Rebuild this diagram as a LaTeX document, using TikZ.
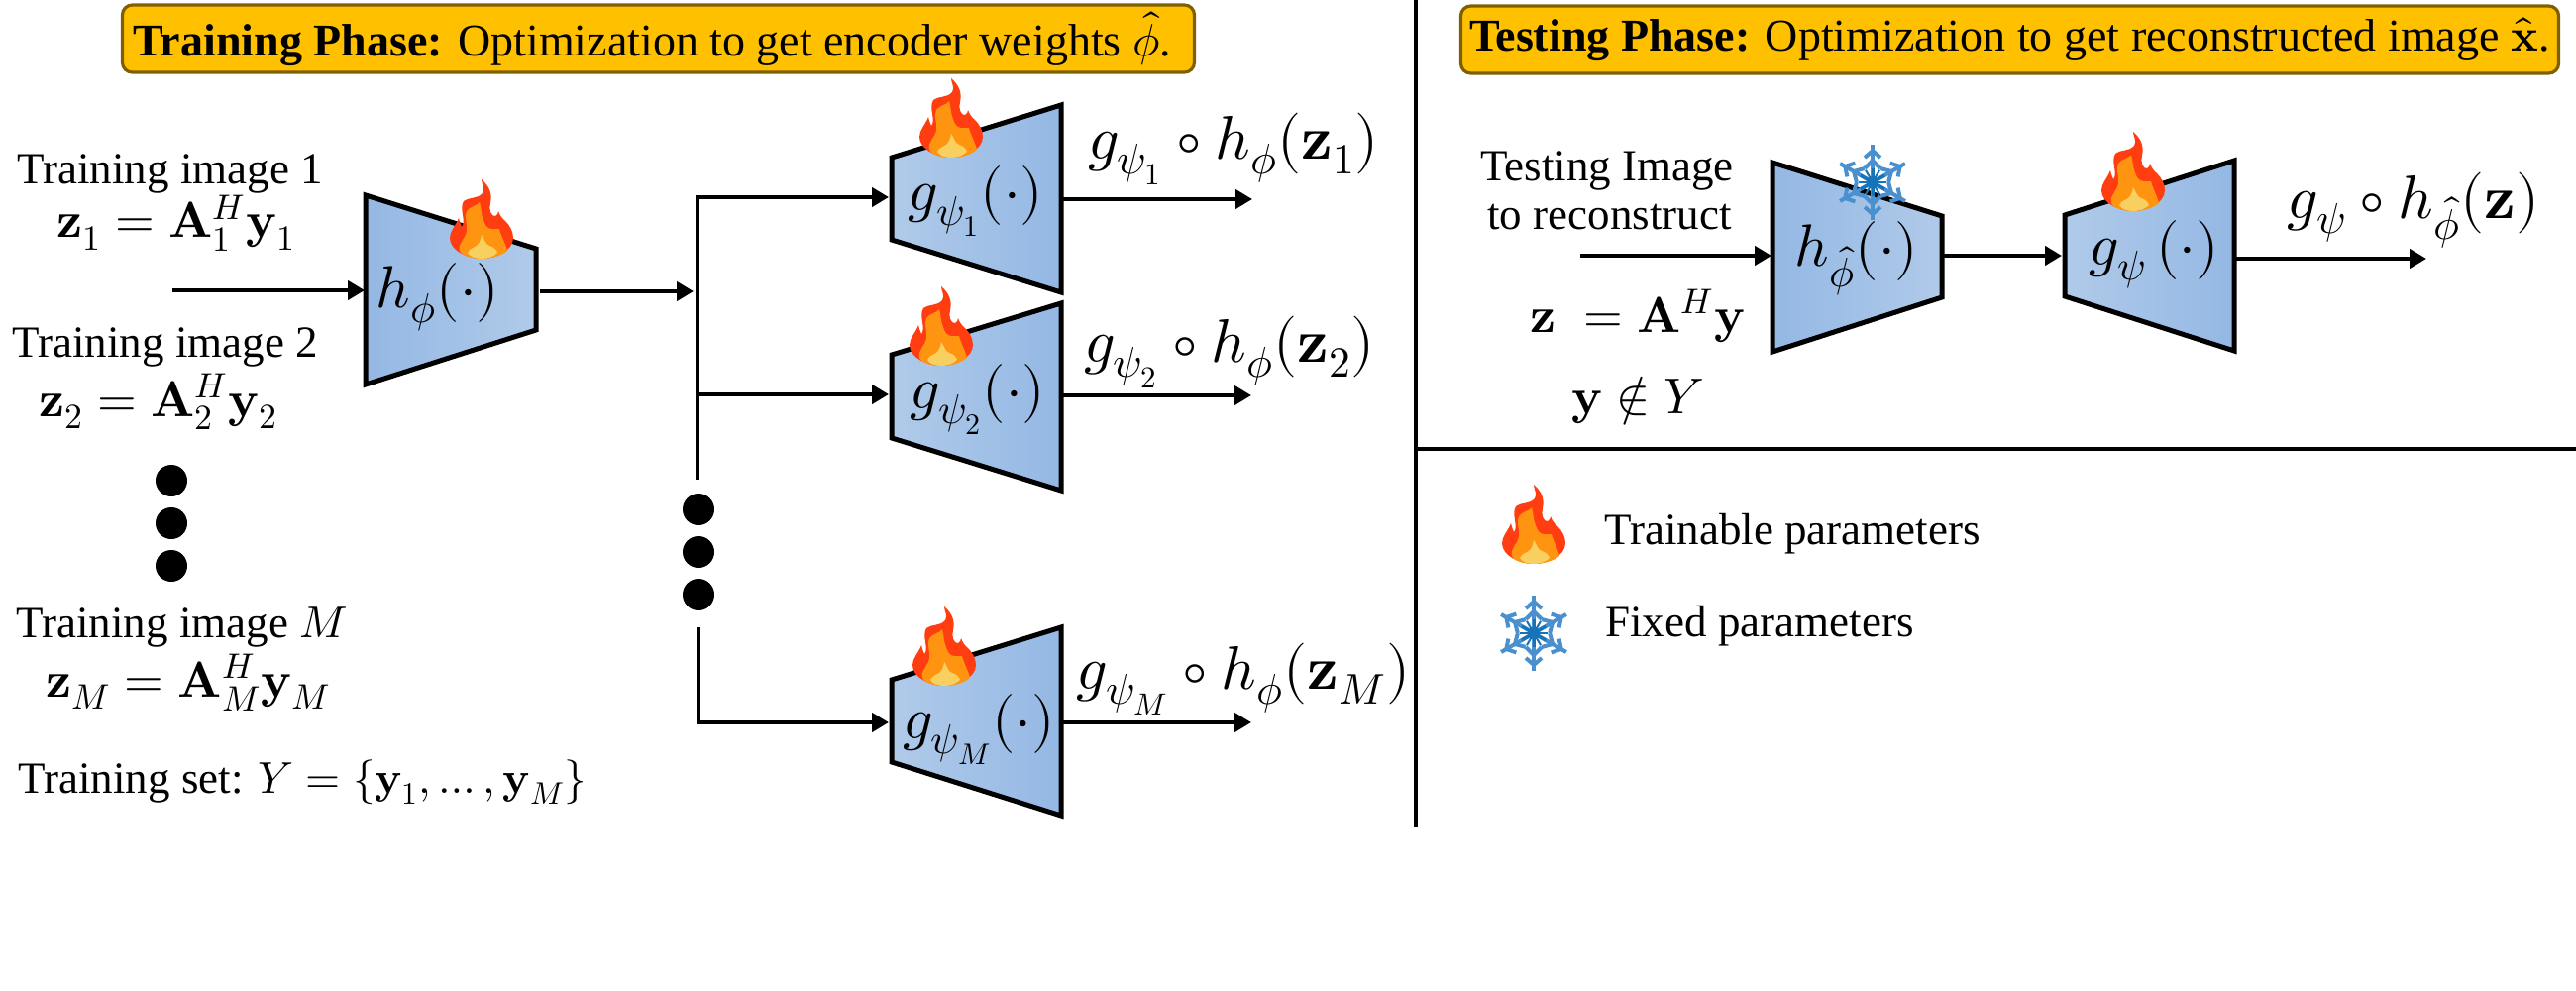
\documentclass[tikz,border=0pt]{standalone}
\usepackage{fontspec}
\usepackage{unicode-math}
\setmainfont{Liberation Serif}
\usetikzlibrary{arrows.meta}
\definecolor{flred}{HTML}{FF3D10}
\definecolor{florange}{HTML}{FF9410}
\definecolor{flyellow}{HTML}{F7D060}
\definecolor{snowa}{HTML}{4A90CE}
\definecolor{snowb}{HTML}{1673B8}
\definecolor{boxfill}{HTML}{FFC000}
\definecolor{boxline}{HTML}{7F6000}
\definecolor{bluedark}{HTML}{94B8E4}
\definecolor{bluelight}{HTML}{B0CAE9}
\tikzset{
  txt/.style={anchor=base west,inner sep=0pt,font=\fontsize{22.5}{27}\selectfont},
  eqn/.style={anchor=base west,inner sep=0pt,font=\fontsize{25.5}{30}\selectfont},
  fn/.style={anchor=center,inner sep=0pt,font=\fontsize{30}{34}\selectfont},
  outlbl/.style={anchor=center,inner sep=0pt,font=\fontsize{31}{35}\selectfont},
  conn/.style={line width=2.2pt,-{Triangle[length=8.5pt,width=9.5pt]}},
  plainline/.style={line width=2.2pt},
  divider/.style={line width=2pt},
  enc/.style={draw=black,line width=2.5pt,left color=bluedark,right color=bluelight,miter limit=10},
  dec/.style={draw=black,line width=2.5pt,left color=bluelight,right color=bluedark,miter limit=10},
  titlebox/.style={draw=boxline,fill=boxfill,line width=1.6pt,rounded corners=5pt,inner sep=0pt,font=\fontsize{23}{27}\selectfont,text=black},
  dotmark/.style={circle,fill=black,inner sep=0pt,minimum size=16pt},
}
\newcommand{\flameat}[2]{%
  \begin{scope}[shift={(#1,#2)}]
    \fill[flred] (0,0) .. controls (-14,0) and (-32,-8) .. (-32,-21)
      .. controls (-32,-28) and (-26,-33) .. (-23,-41)
      .. controls (-22,-37) and (-21,-34) .. (-20,-32)
      .. controls (-15,-38) and (-23,-50) .. (-18,-58)
      .. controls (-14,-62) and (-4,-60) .. (1,-66)
      .. controls (4,-71) and (0,-75) .. (0,-80)
      .. controls (8,-73) and (11,-66) .. (9,-56)
      .. controls (7,-50) and (10,-42) .. (14,-43)
      .. controls (17,-44) and (16,-46) .. (17,-48)
      .. controls (19,-42) and (22,-40) .. (24,-38)
      .. controls (28,-34) and (32,-28) .. (32,-21)
      .. controls (32,-8) and (14,0) .. (0,0) -- cycle;
    \fill[florange] (0,0) .. controls (-10,0) and (-20,-3) .. (-22,-8)
      .. controls (-24,-16) and (-16,-20) .. (-15,-28)
      .. controls (-14,-36) and (-18,-42) .. (-15,-48)
      .. controls (-12,-53) and (-4,-53) .. (-2,-57)
      .. controls (0,-50) and (-1,-44) .. (4,-34)
      .. controls (8,-28) and (14,-30) .. (18,-30)
      .. controls (20,-22) and (24,-16) .. (26,-8)
      .. controls (20,-3) and (10,0) .. (0,0) -- cycle;
    \fill[flyellow] (0,0) .. controls (-6,0) and (-12,-2) .. (-14,-6)
      .. controls (-12,-11) and (-6,-11) .. (-3,-15)
      .. controls (-1,-19) and (0,-22) .. (0,-24)
      .. controls (3,-20) and (4,-14) .. (8,-13)
      .. controls (12,-12) and (15,-9) .. (16,-6)
      .. controls (12,-2) and (6,0) .. (0,0) -- cycle;
  \end{scope}}
\newcommand{\snowat}[2]{%
  \begin{scope}[shift={(#1,#2)}]
    \foreach \a in {30,90,150,210,270,330}{
      \begin{scope}[rotate=\a]
        \draw[snowa,line width=2pt] (0,0) -- (38,0);
        \draw[snowa,line width=2pt] (14,-8) -- (22,0) -- (14,8);
        \draw[snowa,line width=2pt] (25,-8) -- (32,0) -- (25,8);
        \draw[snowb,line width=1.5pt] (0,0) -- (14,0);
      \end{scope}
      \begin{scope}[rotate=\a+30]
        \draw[snowb,line width=1pt] (0,0) -- (14,0);
      \end{scope}
    }
    \fill[snowb] (0,0) circle (6);
  \end{scope}}
\begin{document}
\begin{tikzpicture}[x=0.5pt,y=-0.5pt]
\useasboundingbox (0,0) rectangle (2600,1000);
% dividers
\coordinate (vtop) at (1429,0);
\coordinate (vbot) at (1429,835);
\coordinate (hl) at (1429,453);
\coordinate (hr) at (2600,453);
\draw[divider] (vtop) -- (vbot);
\draw[divider] (hl) -- (hr);
% titles
\node[titlebox,minimum width=541pt,minimum height=34pt] (train) at (664.5,39) {\hspace*{-6pt}\textbf{Training Phase:} Optimization to get encoder weights $\hat{\phi}$.};
\node[titlebox,minimum width=554pt,minimum height=34pt] (test) at (2028.5,40) {\textbf{Testing Phase:} Optimization to get reconstructed image $\hat{\symbf{x}}$.};
% left texts
\node[txt] (t1) at (17,186) {Training image 1};
\node[eqn] (e1) at (57,240) {$\symbf{z}_1=\symbf{A}_1^H\symbf{y}_1$};
\node[txt] (t2) at (12,360) {Training image 2};
\node[eqn] (e2) at (39,420) {$\symbf{z}_2=\symbf{A}_2^H\symbf{y}_2$};
\node[dotmark] (ld1) at (173,485) {};
\node[dotmark] (ld2) at (173,528) {};
\node[dotmark] (ld3) at (173,571) {};
\node[txt] (tm) at (16,643) {Training image $M$};
\node[eqn] (em) at (46,703) {$\symbf{z}_M=\symbf{A}_M^H\symbf{y}_M$};
\node[txt] (ts) at (18,800) {Training set: $Y=\{\symbf{y}_1,\dots,\symbf{y}_M\}$};
% encoder
\draw[enc] (369,197) -- (541,251) -- (541,333) -- (369,388) -- cycle;
\node[fn] (hlab) at (442,300) {$h_{\phi}(\cdot)$};
\flameat{486}{261}
% decoders
\draw[dec] (900,159) -- (1071,106) -- (1071,295) -- (900,242) -- cycle;
\node[fn] (g1lab) at (985,203) {$g_{\psi_1}(\cdot)$};
\flameat{960}{159}
\draw[dec] (900,358) -- (1071,306) -- (1071,495) -- (900,442) -- cycle;
\node[fn] (g2lab) at (987,403) {$g_{\psi_2}(\cdot)$};
\flameat{950}{369}
\draw[dec] (900,686) -- (1071,633) -- (1071,823) -- (900,769) -- cycle;
\node[fn] (gmlab) at (988,736) {$g_{\psi_M}(\cdot)$};
\flameat{953}{692}
% connectors
\coordinate (in1) at (174,293);
\coordinate (h1in) at (368,293);
\coordinate (h1out) at (545,294);
\coordinate (brin) at (700,294);
\coordinate (brtop) at (704,199);
\coordinate (brup) at (704,484);
\coordinate (br2) at (704,398);
\coordinate (brlow) at (705,633);
\coordinate (brbot) at (705,729);
\coordinate (g1in) at (897,199);
\coordinate (g2in) at (897,398);
\coordinate (gmin) at (897,729);
\coordinate (g1out) at (1073,201);
\coordinate (g1end) at (1264,201);
\coordinate (g2out) at (1073,399);
\coordinate (g2end) at (1263,399);
\coordinate (gmout) at (1073,729);
\coordinate (gmend) at (1263,729);
\draw[conn] (in1) -- (h1in);
\draw[conn] (h1out) -- (brin);
\draw[plainline] (brup) -- (brtop);
\draw[conn] ([xshift=-1pt]brtop) -- (g1in);
\draw[conn] (br2) -- (g2in);
\draw[conn] (brlow) |- (gmin);
\draw[conn] (g1out) -- (g1end);
\draw[conn] (g2out) -- (g2end);
\draw[conn] (gmout) -- (gmend);
% middle dots
\node[dotmark] (md1) at (705,514) {};
\node[dotmark] (md2) at (705,557) {};
\node[dotmark] (md3) at (705,600) {};
% output labels
\node[outlbl] (o1) at (1245,150) {$g_{\psi_1}\circ h_{\phi}(\symbf{z}_1)$};
\node[outlbl] (o2) at (1241,355) {$g_{\psi_2}\circ h_{\phi}(\symbf{z}_2)$};
\node[outlbl] (om) at (1255,685) {$g_{\psi_M}\circ h_{\phi}(\symbf{z}_M)$};
% testing
\node[txt] (tt1) at (1494,183) {Testing Image};
\node[txt] (tt2) at (1501,232) {to reconstruct};
\node[eqn] (te) at (1544,335) {$\symbf{z}\;=\symbf{A}^H\symbf{y}$};
\node[eqn] (tn) at (1586,417) {$\symbf{y}\notin Y$};
\draw[enc] (1789,164) -- (1960,218) -- (1960,300) -- (1789,355) -- cycle;
\node[fn] (hhat) at (1874,261) {$h_{\hat{\phi}}(\cdot)$};
\snowat{1890}{184}
\draw[dec] (2084,217) -- (2255,162) -- (2255,354) -- (2084,299) -- cycle;
\node[fn] (gt) at (2174,257) {$g_{\psi}\,(\cdot)$};
\flameat{2153}{213}
\coordinate (tin) at (1595,258);
\coordinate (tenc) at (1788,258);
\coordinate (teout) at (1962,258);
\coordinate (tdin) at (2081,258);
\coordinate (tdout) at (2257,261);
\coordinate (tend) at (2449,261);
\draw[conn] (tin) -- (tenc);
\draw[conn] (teout) -- (tdin);
\draw[conn] (tdout) -- (tend);
\node[outlbl] (to) at (2436,212) {$g_{\psi}\circ h_{\hat{\phi}}(\symbf{z})$};
% legend
\flameat{1548}{569}
\node[txt] (lg1) at (1619,549) {Trainable parameters};
\snowat{1548}{639}
\node[txt] (lg2) at (1620,642) {Fixed parameters};
\end{tikzpicture}
\end{document}
